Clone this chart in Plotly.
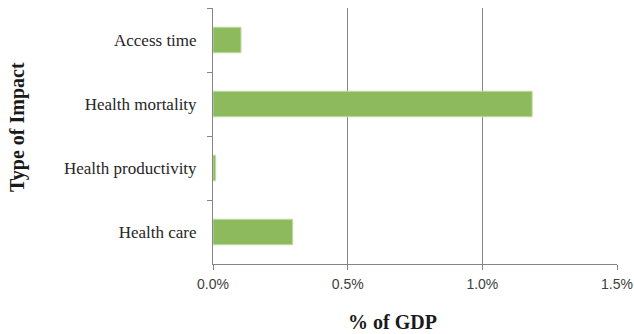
import plotly.graph_objects as go

categories = ["Access time", "Health mortality", "Health productivity", "Health care"]
values = [0.00104, 0.01185, 0.0001, 0.00296]
x_ticks = [0, 0.005, 0.01, 0.015]
x_tick_labels = ["0.0%", "0.5%", "1.0%", "1.5%"]

fig = go.Figure(go.Bar(
    y=categories, x=values, orientation="h",
    marker=dict(color="#8dba5c", line=dict(color="#c4dca8", width=1)),
))

fig.update_layout(
    width=634, height=334,
    margin=dict(l=213, r=17, t=8, b=70, autoexpand=False),
    paper_bgcolor="white", plot_bgcolor="white",
    bargap=0.6,
    showlegend=False,
    xaxis=dict(
        range=[0, 0.015], tickvals=x_ticks, ticktext=x_tick_labels,
        showgrid=True, gridcolor="#868686", gridwidth=1,
        showline=True, linecolor="#868686", linewidth=1,
        ticks="outside", ticklen=5, tickcolor="#868686",
        tickfont=dict(family="Liberation Sans", size=14, color="#404040"),
        ticklabelstandoff=2,
        automargin=False,
        zeroline=False,
    ),
    yaxis=dict(
        type="category", autorange="reversed", tickson="boundaries",
        showline=True, linecolor="#868686", linewidth=1,
        ticks="outside", ticklen=5, tickcolor="#868686",
        tickfont=dict(family="Liberation Serif", size=17, color="#262626"),
        ticklabelstandoff=12,
        automargin=False,
        showgrid=False, zeroline=False,
    ),
    annotations=[
        dict(text="<b>% of GDP</b>", x=392, y=322, showarrow=False,
             xanchor="center", yanchor="middle",
             font=dict(family="Liberation Serif", size=20, color="#1a1a1a")),
        dict(text="<b>Type of Impact</b>", x=17, y=127, textangle=-90, showarrow=False,
             xanchor="center", yanchor="middle",
             font=dict(family="Liberation Serif", size=20, color="#1a1a1a")),
    ],
)

# convert pixel positions for annotations
W, H = 634, 334
l, r, t, b = 213, 17, 8, 70
pw, ph = W - l - r, H - t - b
for a in fig.layout.annotations:
    px, py = a.x, a.y
    a.x = (px - l) / pw
    a.y = 1 - (py - t) / ph
    a.xref = "paper"; a.yref = "paper"

fig.write_html("out.html")
